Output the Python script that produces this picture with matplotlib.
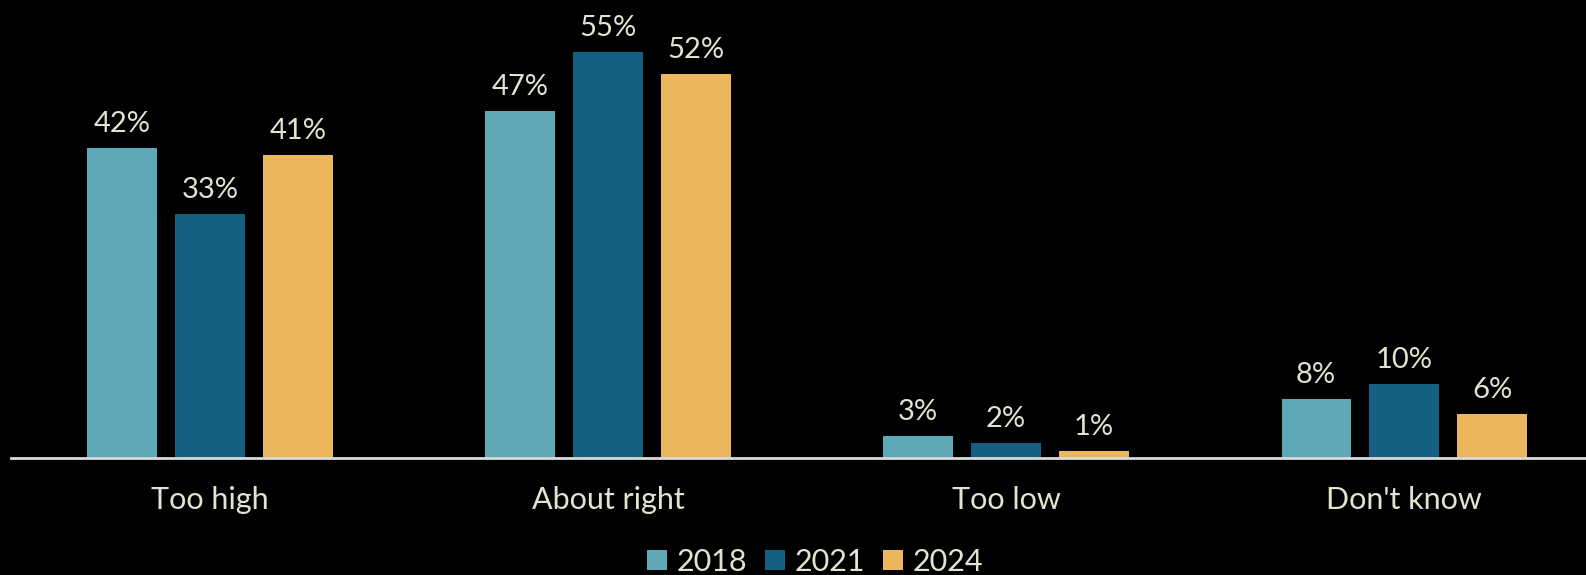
import matplotlib
matplotlib.use("Agg")
import matplotlib.pyplot as plt
import numpy as np
from matplotlib.patches import Patch

categories = ["Too high", "About right", "Too low", "Don't know"]
years = ["2018", "2021", "2024"]
v2018 = [42, 47, 3, 8]
v2021 = [33, 55, 2, 10]
v2024 = [41, 52, 1, 6]
series = [v2018, v2021, v2024]
colors = ["#5fa8b8", "#155f80", "#ebb75c"]
txt = "#e3e3d1"

plt.rcParams['font.family'] = ['Lato', 'DejaVu Sans']

W, H = 1586, 575
fig = plt.figure(figsize=(W/100, H/100), dpi=100, facecolor="black")
ax = fig.add_axes([11/W, (H-458)/H, (W-11)/W, (458-15)/H])
ax.set_facecolor("black")

x = np.arange(len(categories))
pitch = 0.221
width = 0.174
for i, (vals, c) in enumerate(zip(series, colors)):
    bars = ax.bar(x + (i-1)*pitch, vals, width, color=c, label=years[i], zorder=2)
    ax.bar_label(bars, labels=[f"{v}%" for v in vals], padding=8,
                 color=txt, fontsize=21)

ax.set_xlim(-0.5, 3.457)
ax.set_ylim(0, 60)
ax.set_yticks([])
ax.set_xticks(x)
ax.set_xticklabels(categories, color=txt, fontsize=22)
ax.tick_params(axis='x', length=0, pad=20)
for s in ['top', 'right', 'left']:
    ax.spines[s].set_visible(False)
ax.spines['bottom'].set_color("#d9d9d9")
ax.spines['bottom'].set_linewidth(2)

handles = [Patch(facecolor=c, label=y) for c, y in zip(colors, years)]
fig.legend(handles=handles, loc='center', bbox_to_anchor=(815/W, 1-562/H),
           ncol=3, frameon=False, labelcolor=txt,
           prop={'size': 22},
           handlelength=0.65, handleheight=0.65, handletextpad=0.3,
           columnspacing=0.6)

fig.savefig("out.png", dpi=100, facecolor="black")
